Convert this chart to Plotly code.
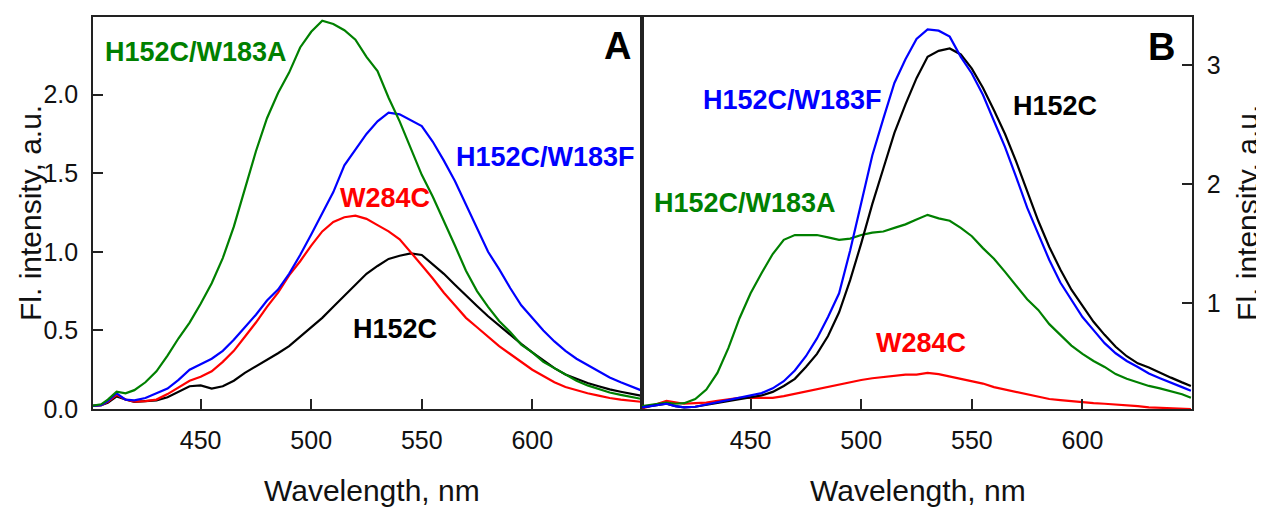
import plotly.graph_objects as go

# Wavelength grid (nm) shared by all spectra
wavelength = [401, 405, 408, 412, 416, 420, 425, 430, 435, 440, 445, 450, 455, 460, 465, 470,
              475, 480, 485, 490, 495, 500, 505, 510, 515, 520, 525, 530, 535, 540, 545, 550,
              555, 560, 565, 570, 575, 580, 585, 590, 595, 600, 605, 610, 615, 620, 625, 630,
              635, 640, 645, 649]

# Panel A
a_w183a = [0.02, 0.03, 0.06, 0.11, 0.10, 0.12, 0.17, 0.24, 0.34, 0.45, 0.55, 0.67, 0.80, 0.96, 1.16, 1.40,
           1.64, 1.85, 2.01, 2.14, 2.30, 2.40, 2.47, 2.45, 2.41, 2.35, 2.24, 2.15, 1.98, 1.83, 1.66, 1.49,
           1.35, 1.20, 1.04, 0.88, 0.75, 0.65, 0.56, 0.49, 0.41, 0.36, 0.30, 0.26, 0.22, 0.18, 0.15, 0.125,
           0.105, 0.09, 0.075, 0.065]
a_w183f = [0.02, 0.025, 0.05, 0.10, 0.06, 0.055, 0.07, 0.10, 0.13, 0.185, 0.25, 0.285, 0.32, 0.37, 0.44, 0.52,
           0.60, 0.69, 0.76, 0.86, 0.98, 1.11, 1.24, 1.38, 1.55, 1.65, 1.75, 1.83, 1.885, 1.875, 1.84, 1.80,
           1.70, 1.58, 1.45, 1.30, 1.16, 1.00, 0.89, 0.77, 0.66, 0.58, 0.50, 0.43, 0.37, 0.32, 0.28, 0.24,
           0.20, 0.17, 0.14, 0.12]
a_w284c = [0.02, 0.025, 0.045, 0.09, 0.06, 0.047, 0.05, 0.06, 0.095, 0.14, 0.18, 0.205, 0.24, 0.30, 0.37, 0.46,
           0.55, 0.65, 0.74, 0.85, 0.94, 1.04, 1.13, 1.19, 1.22, 1.23, 1.21, 1.17, 1.13, 1.08, 1.00, 0.915,
           0.83, 0.74, 0.66, 0.58, 0.52, 0.46, 0.40, 0.35, 0.30, 0.25, 0.21, 0.17, 0.14, 0.12, 0.10, 0.085,
           0.07, 0.06, 0.052, 0.046]
a_h152c = [0.02, 0.025, 0.04, 0.08, 0.06, 0.046, 0.05, 0.055, 0.075, 0.11, 0.145, 0.15, 0.13, 0.145, 0.18, 0.23,
           0.27, 0.31, 0.355, 0.40, 0.46, 0.52, 0.58, 0.65, 0.72, 0.79, 0.86, 0.91, 0.955, 0.975, 0.99, 0.98,
           0.92, 0.86, 0.79, 0.72, 0.655, 0.59, 0.53, 0.47, 0.415, 0.36, 0.31, 0.26, 0.22, 0.19, 0.165, 0.145,
           0.125, 0.11, 0.095, 0.085]

# Panel B
b_w183f = [0.12, 0.13, 0.14, 0.15, 0.13, 0.12, 0.125, 0.145, 0.16, 0.18, 0.20, 0.22, 0.24, 0.28, 0.34, 0.43,
           0.55, 0.70, 0.88, 1.08, 1.44, 1.84, 2.24, 2.55, 2.85, 3.05, 3.22, 3.30, 3.29, 3.24, 3.07, 2.93,
           2.75, 2.53, 2.31, 2.06, 1.80, 1.58, 1.36, 1.17, 1.02, 0.88, 0.77, 0.66, 0.575, 0.51, 0.46, 0.405,
           0.365, 0.33, 0.29, 0.26]
b_h152c = [0.12, 0.13, 0.14, 0.15, 0.13, 0.12, 0.125, 0.14, 0.155, 0.175, 0.19, 0.20, 0.22, 0.25, 0.30, 0.36,
           0.46, 0.57, 0.72, 0.92, 1.19, 1.50, 1.83, 2.13, 2.43, 2.67, 2.89, 3.07, 3.12, 3.14, 3.09, 2.97,
           2.81, 2.62, 2.42, 2.19, 1.94, 1.69, 1.47, 1.28, 1.11, 0.97, 0.84, 0.73, 0.63, 0.55, 0.49, 0.455,
           0.41, 0.37, 0.33, 0.30]
b_w183a = [0.13, 0.14, 0.15, 0.16, 0.15, 0.155, 0.19, 0.27, 0.41, 0.62, 0.87, 1.08, 1.25, 1.41, 1.53, 1.57,
           1.57, 1.57, 1.55, 1.53, 1.54, 1.57, 1.59, 1.60, 1.63, 1.66, 1.70, 1.74, 1.71, 1.69, 1.63, 1.56,
           1.46, 1.37, 1.26, 1.14, 1.03, 0.94, 0.82, 0.73, 0.64, 0.57, 0.51, 0.46, 0.40, 0.36, 0.33, 0.30,
           0.28, 0.255, 0.23, 0.20]
b_w284c = [0.11, 0.13, 0.15, 0.175, 0.16, 0.15, 0.155, 0.16, 0.175, 0.19, 0.20, 0.20, 0.20, 0.20, 0.215, 0.235,
           0.255, 0.275, 0.295, 0.315, 0.33, 0.35, 0.365, 0.375, 0.385, 0.395, 0.395, 0.41, 0.40, 0.38, 0.36, 0.34,
           0.32, 0.29, 0.27, 0.245, 0.225, 0.21, 0.19, 0.18, 0.17, 0.16, 0.155, 0.15, 0.145, 0.135, 0.13, 0.12,
           0.115, 0.11, 0.108, 0.106]

x_ticks = [450, 500, 550, 600]
ya_ticks = [0.0, 0.5, 1.0, 1.5, 2.0]
yb_ticks = [1, 2, 3]

GREEN, BLUE, RED, BLACK = "#008000", "#0000ff", "#ff0000", "#000000"
FONT = "Liberation Sans, Arial, sans-serif"

fig = go.Figure()
for ys, c in [(a_h152c, BLACK), (a_w284c, RED), (a_w183f, BLUE), (a_w183a, GREEN)]:
    fig.add_trace(go.Scatter(x=wavelength, y=ys, mode="lines", line=dict(color=c, width=2.2),
                             xaxis="x", yaxis="y", showlegend=False))
for ys, c in [(b_w284c, RED), (b_w183a, GREEN), (b_h152c, BLACK), (b_w183f, BLUE)]:
    fig.add_trace(go.Scatter(x=wavelength, y=ys, mode="lines", line=dict(color=c, width=2.2),
                             xaxis="x2", yaxis="y2", showlegend=False))

axis_common = dict(showline=True, linecolor="#222", linewidth=1.6, mirror=True, ticks="inside",
                   ticklen=10, tickwidth=1.6, tickcolor="#222", showgrid=False, zeroline=False,
                   tickfont=dict(family=FONT, size=25, color="#111"), ticklabelstandoff=8)

# page body adds an 8px offset, so the figure is 8px smaller than the window
fig.update_layout(
    width=1256, height=501, paper_bgcolor="white", plot_bgcolor="white",
    margin=dict(l=85, r=72, t=7, b=100),
    xaxis=dict(domain=[0, 0.4995], range=[401.3, 649.6], tickvals=x_ticks, anchor="y", **axis_common),
    yaxis=dict(domain=[0, 1], range=[0, 2.494], tickvals=ya_ticks, tickformat=".1f", anchor="x", **axis_common),
    xaxis2=dict(domain=[0.4995, 1], range=[400.9, 649.5], tickvals=x_ticks, anchor="y2", **axis_common),
    yaxis2=dict(domain=[0, 1], range=[0.106, 3.405], tickvals=yb_ticks, anchor="x2", side="right", **axis_common),
)

def lab(text, x, y, color, size=27, xref="x domain", yref="y domain"):
    fig.add_annotation(text=f"<b>{text}</b>", x=x, y=y, xref=xref, yref=yref, showarrow=False,
                       font=dict(family=FONT, size=size, color=color), xanchor="center", yanchor="middle")

# Panel A labels
lab("H152C/W183A", 0.188, 0.911, GREEN)
lab("A", 0.956, 0.926, BLACK, size=38)
lab("H152C/W183F", 0.825, 0.642, BLUE)
lab("W284C", 0.532, 0.538, RED)
lab("H152C", 0.550, 0.203, BLACK)
# Panel B labels
lab("H152C/W183F", 0.273, 0.789, BLUE, xref="x2 domain", yref="y2 domain")
lab("H152C/W183A", 0.187, 0.525, GREEN, xref="x2 domain", yref="y2 domain")
lab("W284C", 0.507, 0.168, RED, xref="x2 domain", yref="y2 domain")
lab("H152C", 0.751, 0.772, BLACK, xref="x2 domain", yref="y2 domain")
lab("B", 0.945, 0.924, BLACK, size=38, xref="x2 domain", yref="y2 domain")

# Axis titles
title_font = dict(family=FONT, size=30, color="#111")
fig.add_annotation(text="Fl. intensity, a.u.", x=-0.0573, y=0.5, xref="paper", yref="paper",
                   textangle=-90, showarrow=False, font=title_font, xanchor="center", yanchor="middle")
fig.add_annotation(text="Fl. intensity, a.u.", x=1.050, y=0.5, xref="paper", yref="paper",
                   textangle=-90, showarrow=False, font=title_font, xanchor="center", yanchor="middle")
fig.add_annotation(text="Wavelength, nm", x=0.508, y=-0.208, xref="x domain", yref="paper",
                   showarrow=False, font=title_font, xanchor="center", yanchor="middle")
fig.add_annotation(text="Wavelength, nm", x=0.502, y=-0.208, xref="x2 domain", yref="paper",
                   showarrow=False, font=title_font, xanchor="center", yanchor="middle")

fig.write_html("out.html")
